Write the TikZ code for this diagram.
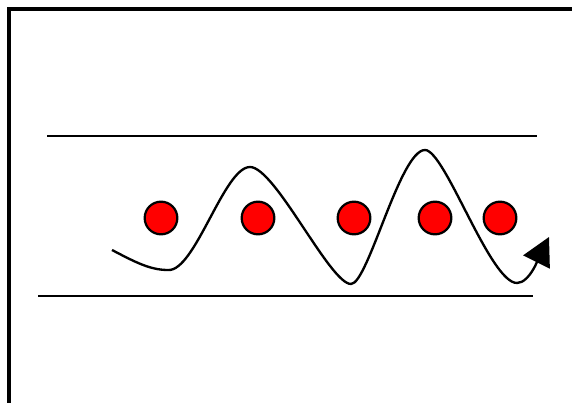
\documentclass[tikz,border=0pt]{standalone}
\usepackage{tikz}
\usetikzlibrary{arrows.meta}

\begin{document}
\begin{tikzpicture}[
    x=0.03cm, y=-0.03cm,
    frame/.style={line width=3pt, black},
    rail/.style={line width=2.3pt, black},
    ion/.style={circle, draw=black, line width=1.9pt, fill=red, minimum size=0.98cm, inner sep=0pt},
    track/.style={line width=2pt, black, -{Triangle[length=0.84cm, width=0.88cm]}}
]
\useasboundingbox (0,0) rectangle (572,403);

\draw[frame] (9,403) -- (9,9) -- (572,9);

\coordinate (railtopL) at (47,136);
\coordinate (railtopR) at (537,136);
\coordinate (railbotL) at (38,296);
\coordinate (railbotR) at (533,296);
\draw[rail] (railtopL) -- (railtopR);
\draw[rail] (railbotL) -- (railbotR);

\node[ion] (ionA) at (161,218) {};
\node[ion] (ionB) at (258,218) {};
\node[ion] (ionC) at (354,218) {};
\node[ion] (ionD) at (435,218) {};
\node[ion] (ionE) at (500,218) {};

% wiggling path between the ions
\coordinate (start) at (112,250);
\coordinate (low1) at (168,270);
\coordinate (high1) at (250,167);
\coordinate (low2) at (351,284);
\coordinate (high2) at (425,150);
\coordinate (low3) at (517,283);
\coordinate (tip) at (549,237);
\draw[track] (start) .. controls (135,262) and (150,270) .. (low1)
    .. controls (195,272) and (224,167) .. (high1)
    .. controls (275,167) and (330,284) .. (low2)
    .. controls (368,284) and (400,150) .. (high2)
    .. controls (445,150) and (490,283) .. (low3)
    .. controls (530,283) and (540,255) .. (tip);
\end{tikzpicture}
\end{document}
